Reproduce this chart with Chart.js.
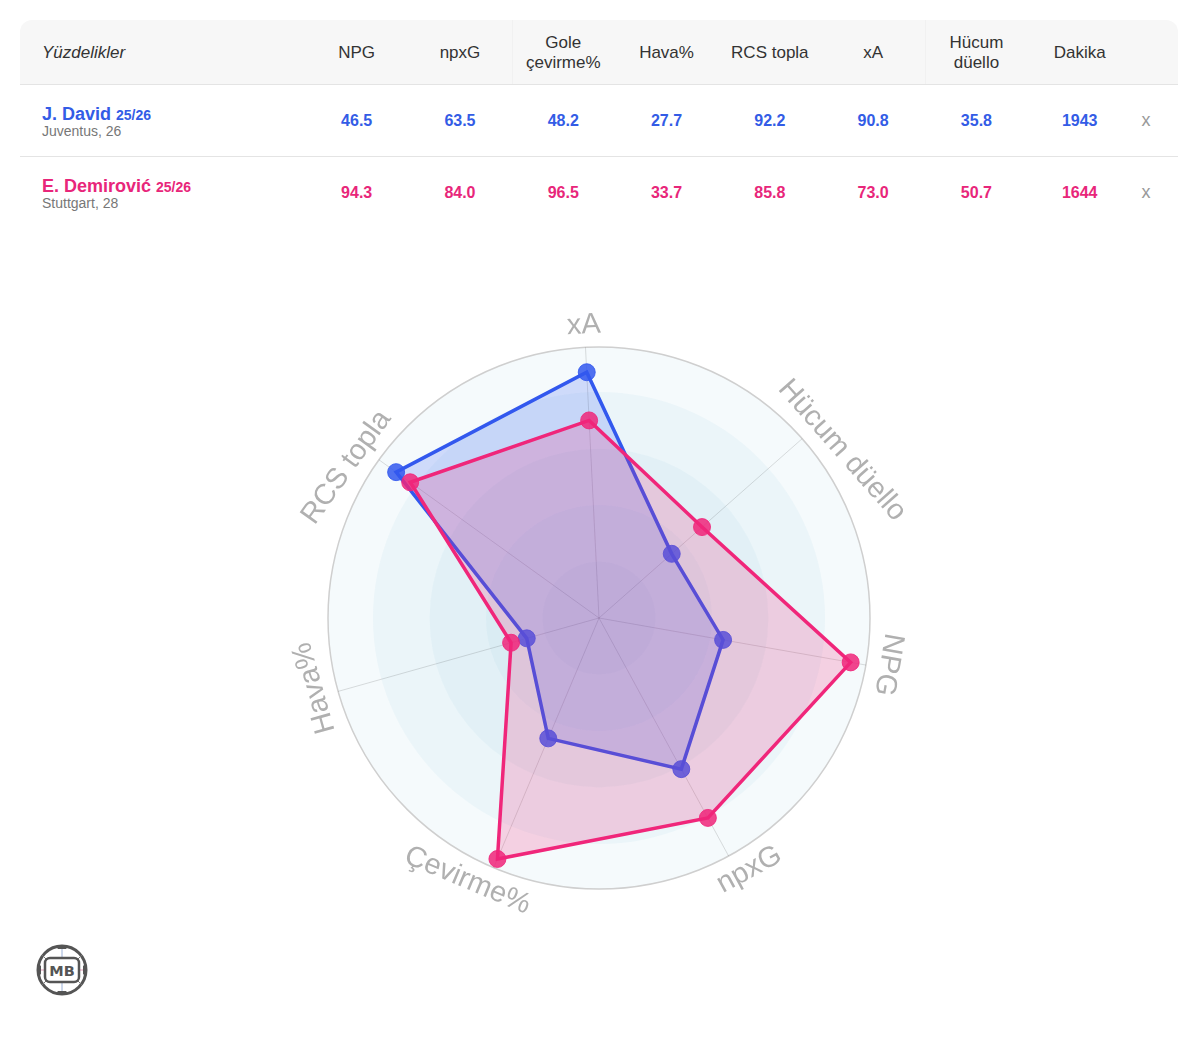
<!DOCTYPE html>
<html>
<head>
<meta charset="utf-8">
<script src="https://cdn.jsdelivr.net/npm/chart.js@4.4.1/dist/chart.umd.min.js"></script>
<style>
  html, body { margin:0; padding:0; background:#fff; }
  body { width:1200px; height:1049px; position:relative; overflow:hidden; font-family:"Liberation Sans", Arial, Helvetica, sans-serif; }
  #tbl { position:absolute; left:20px; top:20px; width:1158px; border-collapse:separate; border-spacing:0; table-layout:fixed; }
  #tbl th { background:#f7f7f7; height:63px; padding:0; padding-top:1px; font-weight:normal; font-size:17px; line-height:20px; color:#333; border-bottom:1px solid #e4e4e4; text-align:center; }
  #tbl th.first { text-align:left; padding-left:22px; font-style:italic; border-top-left-radius:12px; }
  #tbl th.last { border-top-right-radius:12px; }
  #tbl th.sep { box-shadow: inset 1px 0 0 #f1f1f1; }
  #tbl td { height:71px; padding:0; text-align:center; font-weight:bold; font-size:16px; }
  #tbl tr.r1 td { border-bottom:1px solid #e4e4e4; }
  #tbl td.name { text-align:left; padding-left:22px; padding-top:3px; height:68px; }
  .pname { font-size:18px; font-weight:bold; line-height:17px; }
  .pname small { font-size:14px; }
  .pclub { font-size:14px; font-weight:normal; color:#777; line-height:15px; }
  #tbl td.x { color:#999; font-weight:normal; font-size:18px; text-align:left; padding-left:10px; }
  #wrap { position:absolute; left:269px; top:288px; width:660px; height:660px; }
  #logo { position:absolute; left:35px; top:943px; }
</style>
</head>
<body>
<table id="tbl"></table>
<div id="wrap"><canvas id="radar"></canvas></div>
<svg id="logo" width="54" height="54" viewBox="0 0 54 54">
  <circle cx="27" cy="27" r="24" fill="#fff" stroke="#555" stroke-width="3"/>
  <line x1="27" y1="4" x2="27" y2="15" stroke="#9ab0d8" stroke-width="1"/>
  <line x1="27" y1="39" x2="27" y2="50" stroke="#9ab0d8" stroke-width="1"/>
  <line x1="4" y1="27" x2="10" y2="27" stroke="#e59ab8" stroke-width="1"/>
  <line x1="44" y1="27" x2="50" y2="27" stroke="#e59ab8" stroke-width="1"/>
  <line x1="11" y1="16" x2="7" y2="12" stroke="#777" stroke-width="1"/>
  <line x1="43" y1="16" x2="47" y2="12" stroke="#777" stroke-width="1"/>
  <line x1="11" y1="38" x2="7" y2="42" stroke="#777" stroke-width="1"/>
  <line x1="43" y1="38" x2="47" y2="42" stroke="#777" stroke-width="1"/>
  <path d="M21 3.8 A24 24 0 0 1 33 3.8 L31 6 L23 6 Z" fill="#555"/>
  <path d="M21 50.2 A24 24 0 0 0 33 50.2 L31 48 L23 48 Z" fill="#555"/>
  <path d="M3.8 21 A24 24 0 0 0 3.8 33 L6 31 L6 23 Z" fill="#555"/>
  <path d="M50.2 21 A24 24 0 0 1 50.2 33 L48 31 L48 23 Z" fill="#555"/>
  <rect x="10" y="15" width="34" height="24" rx="5" fill="#fff" stroke="#555" stroke-width="2.5"/>
  <text x="27" y="33" text-anchor="middle" font-family="DejaVu Sans, sans-serif" font-weight="bold" font-size="14.5" fill="#555">MB</text>
</svg>
<script>
// ---- data ----
const radarLabels = ["NPG", "npxG", "Çevirme%", "Hava%", "RCS topla", "xA", "Hücum düello"];
const tableHeaders = [["NPG"], ["npxG"], ["Gole", "çevirme%"], ["Hava%"], ["RCS topla"], ["xA"], ["Hücum", "düello"], ["Dakika"]];
const tableTitle = "Yüzdelikler";
const davidValues = [46.5, 63.5, 48.2, 27.7, 92.2, 90.8, 35.8];
const demirovicValues = [94.3, 84.0, 96.5, 33.7, 85.8, 73.0, 50.7];
const davidMinutes = 1943;
const demirovicMinutes = 1644;
const players = [
  { name: "J. David", season: "25/26", club: "Juventus, 26", values: davidValues, minutes: davidMinutes, color: "#335ce6" },
  { name: "E. Demirović", season: "25/26", club: "Stuttgart, 28", values: demirovicValues, minutes: demirovicMinutes, color: "#e8267a" }
];

// ---- table ----
(function buildTable() {
  const t = document.getElementById('tbl');
  let html = '<colgroup><col style="width:285px">';
  for (let i = 0; i < tableHeaders.length; i++) html += '<col style="width:103.3px">';
  html += '<col></colgroup><thead><tr><th class="first">' + tableTitle + '</th>';
  tableHeaders.forEach(h => {
    const cls = h.length > 1 ? ' class="sep"' : '';
    html += '<th' + cls + '>' + h.join('<br>') + '</th>';
  });
  html += '<th class="last"></th></tr></thead><tbody>';
  players.forEach((p, idx) => {
    html += '<tr class="r' + (idx + 1) + '"><td class="name"><div class="pname" style="color:' + p.color + '">' + p.name +
      ' <small>' + p.season + '</small></div><div class="pclub">' + p.club + '</div></td>';
    p.values.forEach(v => { html += '<td style="color:' + p.color + '">' + v.toFixed(1) + '</td>'; });
    html += '<td style="color:' + p.color + '">' + p.minutes + '</td><td class="x">x</td></tr>';
  });
  html += '</tbody>';
  t.innerHTML = html;
})();

// ---- radar ----
const bandsPlugin = {
  id: 'bands',
  beforeDraw(chart) {
    const s = chart.scales.r;
    const ctx = chart.ctx;
    const R = s.drawingArea;
    const fr = [1, 0.834, 0.625, 0.417, 0.208];
    ctx.save();
    fr.forEach(f => {
      ctx.beginPath();
      ctx.arc(s.xCenter, s.yCenter, R * f, 0, Math.PI * 2);
      ctx.fillStyle = 'rgba(100,170,210,0.062)';
      ctx.fill();
    });
    ctx.beginPath();
    ctx.arc(s.xCenter, s.yCenter, R, 0, Math.PI * 2);
    ctx.strokeStyle = '#cfcfcf';
    ctx.lineWidth = 1.5;
    ctx.stroke();
    ctx.restore();
  }
};
const labelsPlugin = {
  id: 'curvedLabels',
  afterDraw(chart) {
    const s = chart.scales.r;
    const ctx = chart.ctx;
    const dist = s.drawingArea + 22;
    ctx.save();
    ctx.font = '29px "Liberation Sans", Arial, sans-serif';
    ctx.fillStyle = '#b0b0b0';
    ctx.textAlign = 'center';
    ctx.textBaseline = 'middle';
    radarLabels.forEach((lab, i) => {
      const p = s.getPointPosition(i, dist);
      let a = s.getIndexAngle(i) % (Math.PI * 2);
      if (a < 0) a += Math.PI * 2;
      let rot = a;
      if (Math.cos(a) < -0.4) rot = a - Math.PI;
      const w = ctx.measureText(lab).width;
      const shift = 0.4 * w * Math.sin(a) * Math.cos(rot);
      ctx.save();
      ctx.translate(p.x + shift * Math.cos(rot), p.y + shift * Math.sin(rot));
      ctx.rotate(rot);
      ctx.fillText(lab, 0, 0);
      ctx.restore();
    });
    ctx.restore();
  }
};

new Chart(document.getElementById('radar'), {
  type: 'radar',
  data: {
    labels: radarLabels,
    datasets: [
      {
        label: 'J. David',
        data: davidValues,
        order: 2,
        borderColor: 'rgb(50,88,238)',
        backgroundColor: 'rgba(50,88,238,0.2)',
        borderWidth: 3.5,
        fill: true,
        pointRadius: 8.5,
        pointBackgroundColor: 'rgba(50,88,238,0.85)',
        pointBorderColor: 'rgba(50,88,238,0.85)',
        pointBorderWidth: 1
      },
      {
        label: 'E. Demirović',
        data: demirovicValues,
        order: 1,
        borderColor: 'rgb(240,38,122)',
        backgroundColor: 'rgba(240,38,122,0.2)',
        borderWidth: 3.5,
        fill: true,
        pointRadius: 8.5,
        pointBackgroundColor: 'rgba(240,38,122,0.85)',
        pointBorderColor: 'rgba(240,38,122,0.85)',
        pointBorderWidth: 1
      }
    ]
  },
  options: {
    responsive: true,
    maintainAspectRatio: false,
    animation: false,
    layout: { padding: 59 },
    elements: { line: { tension: 0 } },
    plugins: { legend: { display: false }, tooltip: { enabled: false } },
    scales: {
      r: {
        min: 0,
        max: 100,
        startAngle: 100,
        ticks: { display: false },
        grid: { display: false },
        angleLines: { display: true, color: 'rgba(0,0,0,0.13)', lineWidth: 1 },
        pointLabels: { display: false }
      }
    }
  },
  plugins: [bandsPlugin, labelsPlugin]
});
</script>
</body>
</html>
